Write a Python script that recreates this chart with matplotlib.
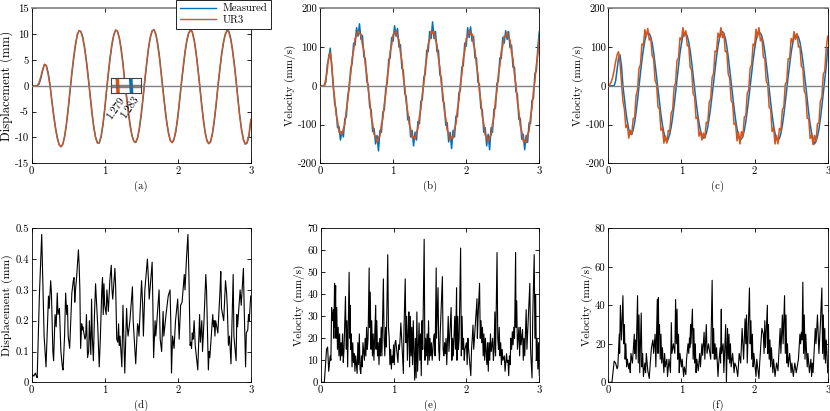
import numpy as np
import matplotlib
matplotlib.use('Agg')
import matplotlib.pyplot as plt

plt.rcParams['font.family'] = 'serif'
plt.rcParams['font.serif'] = ['cmr10', 'DejaVu Serif']
plt.rcParams['mathtext.fontset'] = 'cm'
plt.rcParams['axes.unicode_minus'] = False

BLUE = '#0072BD'
ORANGE = '#D95319'
GREY = '#808080'

# ---- (a) displacement, sampled every 0.025 s ----
t_disp = np.linspace(0, 3, 121)
disp_meas = [0, 0, 0, 0, 0.3, 1.4, 2.9, 4.1, 4.0, 2.6,
             0.4, -2.6, -5.4, -7.9, -9.9, -11.3, -11.8, -11.4, -10.0, -7.7,
             -4.7, -1.2, 2.2, 5.2, 7.8, 9.8, 10.7, 10.5, 9.4, 7.5,
             4.9, 1.8, -1.6, -4.9, -7.8, -9.9, -11.0, -11.1, -10.0, -7.8,
             -4.8, -1.2, 2.2, 5.3, 7.9, 9.8, 10.8, 10.6, 9.4, 7.3,
             4.5, 1.0, -2.0, -5.0, -7.6, -9.6, -10.7, -11.0, -10.2, -8.4,
             -5.8, -2.6, 0.9, 4.1, 7.1, 9.3, 10.6, 10.9, 10.1, 8.3,
             5.8, 2.5, -0.8, -4.0, -6.9, -9.1, -10.6, -11.0, -10.4, -8.9,
             -6.4, -3.2, 0.2, 3.3, 6.3, 8.6, 10.1, 10.8, 10.5, 9.0,
             6.8, 3.8, 0.5, -3.0, -6.2, -8.8, -10.5, -11.2, -10.9, -9.5,
             -7.1, -4.0, -0.5, 2.7, 5.7, 8.1, 9.8, 10.7, 10.6, 9.3,
             7.2, 4.4, 1.2, -2.3, -5.7, -8.4, -10.3, -11.3, -11.1, -9.9,
             -7.0]
disp_ur3 = [0, 0, 0, 0.05, 0.6, 1.8, 3.2, 4.2, 3.8, 2.2,
            0, -3.05, -5.9, -8.3, -10.2, -11.4, -11.8, -11.3, -9.7, -7.3,
            -4.2, -0.7, 2.7, 5.7, 8.2, 10.0, 10.7, 10.4, 9.1, 7.1,
            4.4, 1.3, -2.1, -5.4, -8.2, -10.1, -11.1, -11.0, -9.7, -7.4,
            -4.3, -0.7, 2.7, 5.8, 8.3, 10.0, 10.8, 10.5, 9.1, 6.9,
            4.0, 0.5, -2.5, -5.5, -8.0, -9.8, -10.8, -10.9, -10.0, -8.0,
            -5.3, -2.1, 1.4, 4.6, 7.5, 9.5, 10.7, 10.8, 9.9, 7.9,
            5.3, 2.0, -1.3, -4.5, -7.3, -9.4, -10.7, -11.0, -10.2, -8.5,
            -5.9, -2.7, 0.7, 3.8, 6.7, 8.9, 10.3, 10.8, 10.3, 8.7,
            6.3, 3.3, 0, -3.5, -6.6, -9.1, -10.7, -11.2, -10.7, -9.1,
            -6.6, -3.5, 0, 3.2, 6.1, 8.4, 10.0, 10.7, 10.4, 9.0,
            6.8, 3.9, 0.7, -2.8, -6.1, -8.7, -10.5, -11.3, -10.9, -9.5,
            -6.5]
cross_labels = ['1.279', '1.283']

# ---- (b), (c) velocity, sampled every 0.02 s ----
t_vel = np.linspace(0, 3, 151)
vel_meas_b = [0, 0, 0, 0, 10, 55, 70, 97, 48, 8,
              -45, -60, -108, -105, -140, -118, -132, -85, -80, -25,
              -8, 45, 58, 110, 105, 150, 128, 160, 120, 130,
              75, 70, 12, 2, -55, -62, -118, -110, -150, -128,
              -168, -115, -120, -68, -62, -5, 8, 68, 72, 125,
              115, 155, 128, 148, 100, 106, 45, 40, -20, -28,
              -88, -80, -132, -115, -155, -120, -140, -92, -98, -40,
              -36, 22, 30, 92, 88, 140, 122, 165, 122, 140,
              88, 92, 28, 22, -38, -45, -102, -95, -145, -120,
              -162, -115, -132, -78, -80, -18, -12, 48, 52, 110,
              102, 150, 125, 152, 115, 128, 72, 72, 10, 4,
              -58, -62, -120, -108, -155, -125, -165, -108, -120, -60,
              -58, 6, 12, 72, 70, 125, 110, 142, 120, 140,
              98, 105, 48, 48, -15, -22, -86, -84, -138, -125,
              -165, -128, -146, -96, -98, -38, -32, 32, 38, 100,
              140]
vel_ur3_b = [0, 0, 0, 2, 18, 40, 80, 85, 60, -3,
             -30, -74, -90, -120, -118, -126, -110, -99, -62, -38,
             5, 30, 72, 90, 123, 128, 142, 134, 133, 106,
             92, 54, 31, -12, -37, -80, -97, -126, -131, -146,
             -133, -129, -100, -85, -46, -21, 23, 48, 89, 104,
             133, 134, 143, 126, 119, 86, 66, 22, -4, -45,
             -66, -99, -111, -134, -131, -138, -119, -111, -79, -60,
             -20, 4, 48, 70, 108, 118, 141, 135, 141, 118,
             107, 70, 48, 4, -20, -63, -83, -115, -123, -141,
             -132, -135, -110, -98, -60, -39, 4, 29, 71, 89,
             122, 127, 144, 133, 134, 107, 93, 53, 31, -14,
             -38, -80, -97, -128, -131, -145, -131, -128, -97, -80,
             -38, -14, 30, 51, 90, 103, 129, 128, 139, 122,
             118, 86, 69, 28, 5, -41, -65, -104, -117, -143,
             -140, -147, -126, -117, -80, -58, -13, 12, 55, 80,
             125]
vel_meas_c = [0, 0, 0, 0, 0, 12, 42, 72, 80, 52,
              0, -33, -66, -92, -112, -124, -126, -114, -95, -68,
              -36, 0, 34, 66, 94, 117, 132, 137, 135, 126,
              110, 86, 56, 24, -10, -42, -74, -101, -121, -135,
              -145, -137, -125, -106, -81, -51, -17, 18, 52, 84,
              109, 128, 136, 136, 128, 113, 90, 61, 27, -8,
              -40, -70, -95, -115, -129, -135, -133, -123, -106, -83,
              -55, -24, 9, 43, 75, 102, 123, 136, 140, 135,
              123, 102, 75, 43, 9, -25, -58, -87, -110, -127,
              -140, -137, -130, -115, -93, -65, -34, 0, 34, 66,
              94, 117, 132, 137, 136, 128, 112, 88, 58, 26,
              -9, -43, -75, -102, -123, -136, -140, -136, -123, -102,
              -75, -43, -9, 25, 56, 85, 108, 124, 130, 132,
              126, 113, 91, 64, 33, 0, -36, -70, -99, -122,
              -138, -150, -142, -131, -112, -85, -53, -18, 17, 50,
              95]
vel_ur3_c = [0, 3, 10, 22, 40, 62, 80, 88, 60, 10,
             -40, -60, -108, -100, -135, -115, -125, -85, -82, -25,
             -10, 45, 55, 108, 105, 145, 128, 148, 118, 124,
             78, 70, 14, 4, -55, -60, -115, -108, -148, -130,
             -148, -115, -118, -70, -62, -4, 8, 66, 72, 124,
             118, 150, 128, 142, 103, 104, 48, 40, -20, -28,
             -85, -80, -130, -118, -140, -122, -135, -94, -96, -42,
             -34, 22, 32, 90, 88, 136, 124, 150, 124, 136,
             88, 90, 30, 20, -38, -45, -100, -96, -142, -120,
             -150, -118, -132, -80, -78, -20, -10, 46, 54, 108,
             104, 146, 126, 150, 116, 126, 74, 70, 12, 4,
             -56, -60, -118, -108, -150, -128, -150, -110, -115, -62,
             -55, 4, 12, 70, 70, 122, 112, 140, 120, 135,
             100, 102, 50, 46, -14, -22, -84, -84, -136, -126,
             -152, -128, -144, -98, -96, -40, -30, 30, 38, 98,
             128]

# ---- (d) displacement error: (time, mm) ----
err_disp = [(0.00, 0.015), (0.01, 0.025), (0.03, 0.02), (0.05, 0.03), (0.065, 0.02), (0.075, 0.015),
            (0.09, 0.15), (0.105, 0.28), (0.137, 0.48), (0.155, 0.30), (0.17, 0.15), (0.196, 0.05),
            (0.215, 0.18), (0.23, 0.28), (0.24, 0.24), (0.26, 0.33), (0.27, 0.29), (0.29, 0.10),
            (0.30, 0.07), (0.32, 0.22), (0.335, 0.18), (0.35, 0.29), (0.36, 0.22), (0.37, 0.23),
            (0.38, 0.24), (0.40, 0.10), (0.42, 0.05), (0.43, 0.04), (0.45, 0.15), (0.465, 0.29),
            (0.48, 0.22), (0.49, 0.25), (0.50, 0.15), (0.52, 0.11), (0.535, 0.20), (0.55, 0.29),
            (0.57, 0.33), (0.58, 0.34), (0.59, 0.26), (0.60, 0.30), (0.615, 0.34), (0.64, 0.43),
            (0.65, 0.38), (0.66, 0.30), (0.67, 0.11), (0.685, 0.19), (0.695, 0.17), (0.70, 0.18),
            (0.73, 0.14), (0.74, 0.15), (0.75, 0.22), (0.765, 0.08), (0.78, 0.10), (0.79, 0.20),
            (0.81, 0.09), (0.82, 0.27), (0.83, 0.15), (0.845, 0.07), (0.86, 0.22), (0.875, 0.32),
            (0.89, 0.25), (0.905, 0.18), (0.925, 0.05), (0.94, 0.14), (0.96, 0.30), (0.97, 0.34),
            (0.98, 0.22), (0.99, 0.32), (1.00, 0.25), (1.02, 0.22), (1.03, 0.30), (1.05, 0.23),
            (1.07, 0.33), (1.09, 0.38), (1.10, 0.30), (1.11, 0.27), (1.14, 0.37), (1.15, 0.31),
            (1.165, 0.14), (1.18, 0.13), (1.19, 0.19), (1.20, 0.12), (1.21, 0.15), (1.235, 0.05),
            (1.25, 0.25), (1.275, 0.03), (1.29, 0.15), (1.30, 0.24), (1.31, 0.18), (1.32, 0.15),
            (1.345, 0.20), (1.37, 0.28), (1.38, 0.31), (1.39, 0.20), (1.425, 0.06), (1.45, 0.19),
            (1.46, 0.18), (1.47, 0.15), (1.505, 0.33), (1.52, 0.25), (1.53, 0.15), (1.55, 0.30),
            (1.585, 0.40), (1.60, 0.33), (1.61, 0.27), (1.65, 0.39), (1.66, 0.25), (1.67, 0.08),
            (1.69, 0.20), (1.70, 0.15), (1.745, 0.30), (1.76, 0.14), (1.78, 0.10), (1.80, 0.23),
            (1.81, 0.15), (1.84, 0.22), (1.87, 0.28), (1.895, 0.30), (1.905, 0.20), (1.915, 0.03),
            (1.93, 0.15), (1.95, 0.11), (1.97, 0.20), (2.00, 0.27), (2.02, 0.14), (2.04, 0.25),
            (2.06, 0.26), (2.09, 0.35), (2.10, 0.30), (2.12, 0.40), (2.14, 0.48), (2.155, 0.33),
            (2.17, 0.12), (2.18, 0.13), (2.19, 0.11), (2.20, 0.16), (2.21, 0.14), (2.225, 0.20),
            (2.24, 0.12), (2.275, 0.04), (2.30, 0.22), (2.31, 0.13), (2.33, 0.20), (2.34, 0.10),
            (2.36, 0.20), (2.385, 0.35), (2.395, 0.30), (2.41, 0.15), (2.42, 0.04), (2.43, 0.10),
            (2.44, 0.08), (2.48, 0.22), (2.49, 0.18), (2.50, 0.20), (2.51, 0.15), (2.52, 0.20),
            (2.55, 0.16), (2.58, 0.30), (2.59, 0.36), (2.60, 0.24), (2.63, 0.20), (2.655, 0.33),
            (2.67, 0.29), (2.68, 0.24), (2.695, 0.12), (2.71, 0.15), (2.73, 0.06), (2.76, 0.35),
            (2.77, 0.15), (2.80, 0.07), (2.81, 0.22), (2.82, 0.18), (2.855, 0.30), (2.87, 0.25),
            (2.90, 0.37), (2.91, 0.25), (2.93, 0.05), (2.94, 0.16), (2.96, 0.17), (2.97, 0.22),
            (2.98, 0.20), (3.00, 0.28)]

# ---- (e) velocity error, panel b: (time, mm/s) ----
err_vel_b = [(0.00, 0), (0.05, 0), (0.08, 15), (0.095, 16), (0.11, 5), (0.13, 12), (0.14, 10), (0.15, 34),
             (0.16, 28), (0.175, 33), (0.18, 20), (0.19, 45), (0.195, 25), (0.205, 44), (0.21, 20), (0.22, 34),
             (0.23, 15), (0.24, 25), (0.25, 12), (0.26, 22), (0.27, 10), (0.28, 18), (0.29, 12), (0.30, 22),
             (0.31, 9), (0.32, 15), (0.34, 39), (0.35, 15), (0.36, 28), (0.37, 7), (0.39, 50), (0.40, 20),
             (0.405, 35), (0.41, 15), (0.42, 22), (0.43, 7), (0.44, 18), (0.45, 9), (0.46, 13), (0.47, 5),
             (0.48, 12), (0.50, 4), (0.51, 18), (0.52, 8), (0.53, 22), (0.54, 6), (0.55, 4), (0.56, 12),
             (0.57, 7), (0.58, 18), (0.60, 10), (0.61, 20), (0.62, 12), (0.63, 25), (0.64, 15), (0.65, 20),
             (0.665, 52), (0.67, 25), (0.68, 41), (0.69, 15), (0.70, 28), (0.71, 12), (0.72, 22), (0.73, 10),
             (0.74, 20), (0.755, 35), (0.76, 15), (0.77, 28), (0.78, 12), (0.79, 18), (0.80, 8), (0.81, 20),
             (0.82, 12), (0.83, 25), (0.84, 12), (0.86, 47), (0.87, 20), (0.88, 12), (0.89, 25), (0.90, 16),
             (0.92, 58), (0.93, 25), (0.94, 20), (0.95, 8), (0.96, 15), (0.97, 6), (0.98, 12), (0.99, 9),
             (1.00, 17), (1.01, 8), (1.02, 18), (1.03, 19), (1.05, 12), (1.06, 9), (1.07, 17), (1.08, 15),
             (1.09, 20), (1.10, 27), (1.135, 4), (1.14, 20), (1.16, 47), (1.17, 18), (1.18, 30), (1.19, 10),
             (1.20, 22), (1.21, 32), (1.22, 7), (1.23, 30), (1.24, 12), (1.25, 25), (1.26, 8), (1.27, 28),
             (1.29, 1), (1.30, 20), (1.31, 2), (1.32, 32), (1.33, 5), (1.35, 27), (1.36, 10), (1.37, 22),
             (1.38, 3), (1.39, 28), (1.40, 15), (1.42, 65), (1.43, 10), (1.44, 20), (1.45, 12), (1.46, 22),
             (1.47, 8), (1.48, 28), (1.49, 10), (1.50, 20), (1.51, 12), (1.52, 18), (1.53, 10), (1.54, 15),
             (1.55, 20), (1.56, 22), (1.57, 12), (1.585, 52), (1.59, 20), (1.61, 43), (1.62, 15), (1.63, 10),
             (1.64, 22), (1.67, 48), (1.68, 15), (1.69, 12), (1.70, 18), (1.71, 13), (1.72, 20), (1.73, 8),
             (1.75, 30), (1.76, 14), (1.79, 34), (1.80, 10), (1.81, 20), (1.82, 12), (1.84, 30), (1.85, 15),
             (1.865, 43), (1.87, 10), (1.88, 30), (1.89, 15), (1.90, 20), (1.92, 61), (1.93, 12), (1.94, 30),
             (1.95, 15), (1.96, 20), (1.97, 10), (1.98, 15), (2.00, 18), (2.01, 8), (2.02, 20), (2.03, 15),
             (2.06, 3), (2.07, 15), (2.08, 20), (2.09, 26), (2.10, 15), (2.145, 38), (2.15, 20), (2.16, 30),
             (2.18, 45), (2.19, 20), (2.20, 28), (2.21, 18), (2.22, 25), (2.23, 12), (2.24, 22), (2.25, 10),
             (2.26, 20), (2.28, 8), (2.29, 18), (2.30, 5), (2.31, 18), (2.32, 10), (2.33, 22), (2.34, 14),
             (2.36, 20), (2.37, 10), (2.38, 15), (2.39, 32), (2.40, 12), (2.42, 59), (2.43, 20), (2.44, 15),
             (2.45, 25), (2.46, 12), (2.47, 18), (2.48, 8), (2.49, 15), (2.50, 10), (2.52, 12), (2.53, 5),
             (2.55, 13), (2.56, 9), (2.57, 10), (2.58, 3), (2.59, 12), (2.60, 8), (2.61, 20), (2.62, 15),
             (2.63, 23), (2.64, 17), (2.65, 25), (2.66, 20), (2.675, 59), (2.68, 25), (2.69, 37), (2.70, 15),
             (2.72, 25), (2.73, 12), (2.74, 25), (2.75, 17), (2.77, 24), (2.78, 10), (2.79, 20), (2.80, 12),
             (2.82, 33), (2.83, 15), (2.87, 45), (2.88, 15), (2.90, 2), (2.91, 30), (2.93, 58), (2.94, 20),
             (2.95, 40), (2.96, 10), (2.97, 20), (2.98, 6), (2.99, 18), (3.00, 3)]

# ---- (f) velocity error, panel c: (time, mm/s) ----
err_vel_c = [(0.00, 0), (0.05, 0), (0.08, 11), (0.10, 10), (0.12, 7), (0.13, 8), (0.15, 25), (0.155, 15),
             (0.165, 40), (0.18, 22), (0.20, 45), (0.21, 20), (0.22, 30), (0.23, 12), (0.24, 20), (0.25, 8),
             (0.26, 12), (0.28, 7), (0.29, 10), (0.30, 5), (0.31, 15), (0.33, 10), (0.355, 25), (0.36, 15),
             (0.37, 22), (0.38, 12), (0.40, 45), (0.41, 10), (0.42, 35), (0.43, 5), (0.45, 36), (0.46, 8),
             (0.47, 15), (0.48, 3), (0.50, 10), (0.51, 5), (0.52, 15), (0.54, 6), (0.56, 2), (0.57, 8),
             (0.59, 18), (0.61, 22), (0.62, 15), (0.64, 25), (0.65, 8), (0.67, 43), (0.68, 15), (0.685, 44),
             (0.69, 25), (0.70, 30), (0.71, 12), (0.72, 25), (0.73, 10), (0.74, 18), (0.76, 5), (0.77, 15),
             (0.78, 8), (0.80, 12), (0.81, 3), (0.83, 12), (0.85, 5), (0.862, 31), (0.87, 15), (0.89, 20),
             (0.91, 15), (0.92, 43), (0.93, 20), (0.94, 38), (0.95, 12), (0.96, 25), (0.97, 5), (0.98, 15),
             (1.00, 8), (1.01, 12), (1.03, 3), (1.04, 8), (1.06, 4), (1.07, 12), (1.09, 20), (1.10, 15),
             (1.11, 23), (1.115, 18), (1.125, 30), (1.13, 20), (1.15, 38), (1.16, 12), (1.17, 28), (1.18, 10),
             (1.19, 20), (1.20, 5), (1.21, 12), (1.23, 6), (1.25, 15), (1.26, 8), (1.28, 20), (1.29, 14),
             (1.31, 26), (1.32, 12), (1.34, 30), (1.35, 15), (1.37, 20), (1.40, 12), (1.42, 53), (1.43, 15),
             (1.44, 28), (1.45, 12), (1.46, 20), (1.47, 12), (1.48, 18), (1.50, 3), (1.51, 10), (1.53, 18),
             (1.535, 10), (1.545, 38), (1.55, 15), (1.57, 20), (1.58, 5), (1.605, 30), (1.615, 0), (1.63, 28),
             (1.64, 12), (1.65, 25), (1.66, 10), (1.67, 20), (1.68, 8), (1.70, 15), (1.72, 5), (1.73, 10),
             (1.75, 8), (1.77, 3), (1.79, 15), (1.81, 10), (1.83, 28), (1.85, 12), (1.87, 33), (1.88, 20),
             (1.89, 35), (1.90, 10), (1.93, 49), (1.94, 20), (1.95, 32), (1.96, 12), (1.97, 25), (1.98, 8),
             (1.99, 15), (2.02, 3), (2.03, 12), (2.05, 5), (2.06, 2), (2.07, 10), (2.10, 28), (2.12, 25),
             (2.13, 15), (2.14, 32), (2.15, 18), (2.175, 40), (2.18, 15), (2.19, 30), (2.20, 12), (2.21, 22),
             (2.22, 8), (2.23, 18), (2.25, 5), (2.26, 12), (2.28, 3), (2.30, 10), (2.32, 6), (2.35, 28),
             (2.36, 15), (2.38, 35), (2.39, 20), (2.41, 45), (2.42, 15), (2.43, 35), (2.44, 10), (2.45, 20),
             (2.46, 8), (2.48, 15), (2.50, 5), (2.51, 10), (2.53, 3), (2.55, 10), (2.57, 5), (2.60, 12),
             (2.62, 25), (2.63, 20), (2.64, 26), (2.65, 22), (2.66, 52), (2.67, 15), (2.68, 35), (2.69, 12),
             (2.70, 25), (2.72, 8), (2.73, 15), (2.75, 5), (2.77, 12), (2.78, 3), (2.79, 10), (2.80, 5),
             (2.83, 28), (2.84, 20), (2.86, 35), (2.88, 15), (2.90, 30), (2.92, 49), (2.93, 15), (2.94, 35),
             (2.95, 12), (2.96, 28), (2.97, 10), (2.98, 22), (2.99, 15), (3.00, 5)]

W, H = 830, 411
FS = 7.7   # ticks, panel tags, legend


def box(x0, x1, y0, y1):
    return [x0 / W, 1 - y1 / H, (x1 - x0) / W, (y1 - y0) / H]


def style(ax, ylim, yticks, ylabel, tag, ylabel_fs, grey_top=False):
    ax.set_xlim(0, 3)
    ax.set_xticks([0, 1, 2, 3])
    ax.set_ylim(*ylim)
    ax.set_yticks(yticks)
    ax.tick_params(direction='in', top=True, right=True, length=3, width=0.6,
                   labelsize=FS, pad=2)
    for s in ax.spines.values():
        s.set_linewidth(0.6)
    if grey_top:
        ax.spines['top'].set_color(GREY)
        ax.spines['top'].set_linewidth(1.2)
    ax.set_ylabel(ylabel, fontsize=ylabel_fs, labelpad=1.5)
    ax.set_xlabel(tag, fontsize=FS, labelpad=4)


fig = plt.figure(figsize=(8.3, 4.11), dpi=100)

# (a)
ax = fig.add_axes(box(31.7, 250.7, 8.3, 163.3))
l1, = ax.plot(t_disp, disp_meas, color=BLUE, lw=1.0)
l2, = ax.plot(t_disp, disp_ur3, color=ORANGE, lw=1.0)
ax.axhline(0, color=GREY, lw=1.0, zorder=3)
style(ax, (-15, 15), range(-15, 16, 5), 'Displacement (mm)', '(a)', 9.2, grey_top=True)

# inset around the zero crossing near 1.28 s
ins = fig.add_axes(box(111, 141, 78, 93))
ins.plot(t_disp, disp_meas, color=BLUE, lw=2.6)
ins.plot(t_disp, disp_ur3, color=ORANGE, lw=2.6)
ins.axhline(0, color='#606060', lw=2.5, alpha=0.8, zorder=3)
ins.set_xlim(1.2771, 1.2864)
ins.set_ylim(-0.015, 0.015)
ins.set_xticks([])
ins.set_yticks([])
for s in ins.spines.values():
    s.set_linewidth(0.8)
    s.set_color('#404040')
fig.text(127 / W, 1 - 96 / H, cross_labels[0], rotation=55, ha='right', va='top', fontsize=FS)
fig.text(141 / W, 1 - 95 / H, cross_labels[1], rotation=55, ha='right', va='top', fontsize=FS)

leg = fig.legend([l1, l2], ['Measured', 'UR3'], loc='upper left', bbox_to_anchor=(176 / W, 1.0),
                 fontsize=FS, frameon=True, fancybox=False, edgecolor='black', framealpha=1,
                 handlelength=3.4, handletextpad=0.6, borderpad=0.35, labelspacing=0.2,
                 borderaxespad=0)
leg.get_frame().set_linewidth(0.6)

# (b)
ax = fig.add_axes(box(320, 539.3, 8.3, 163.3))
ax.plot(t_vel, vel_meas_b, color=BLUE, lw=1.1)
ax.plot(t_vel, vel_ur3_b, color=ORANGE, lw=1.1)
ax.axhline(0, color=GREY, lw=1.0, zorder=3)
style(ax, (-200, 200), range(-200, 201, 100), 'Velocity (mm/s)', '(b)', 8.0, grey_top=True)

# (c)
ax = fig.add_axes(box(608.3, 827.7, 8.3, 163.3))
ax.plot(t_vel, vel_meas_c, color=BLUE, lw=1.1)
ax.plot(t_vel, vel_ur3_c, color=ORANGE, lw=1.1)
ax.axhline(0, color=GREY, lw=1.0, zorder=3)
style(ax, (-200, 200), range(-200, 201, 100), 'Velocity (mm/s)', '(c)', 8.0, grey_top=True)

# (d)
ax = fig.add_axes(box(31.7, 250.7, 228.3, 382.3))
td, vd = np.array(err_disp).T
ax.plot(td, vd, color='black', lw=0.8)
style(ax, (0, 0.5), np.arange(0, 0.51, 0.1), 'Displacement (mm)', '(d)', 8.5)
ax.set_yticklabels(['0', '0.1', '0.2', '0.3', '0.4', '0.5'])

# (e)
ax = fig.add_axes(box(320.7, 539.3, 228.3, 382.3))
te, ve = np.array(err_vel_b).T
ax.plot(te, ve, color='black', lw=0.8)
style(ax, (0, 70), range(0, 71, 10), 'Velocity (mm/s)', '(e)', 8.0)

# (f)
ax = fig.add_axes(box(608.3, 827.7, 228.3, 382.3))
tf, vf = np.array(err_vel_c).T
ax.plot(tf, vf, color='black', lw=0.8)
style(ax, (0, 80), range(0, 81, 20), 'Velocity (mm/s)', '(f)', 8.0)

fig.savefig('out.png', dpi=100)
